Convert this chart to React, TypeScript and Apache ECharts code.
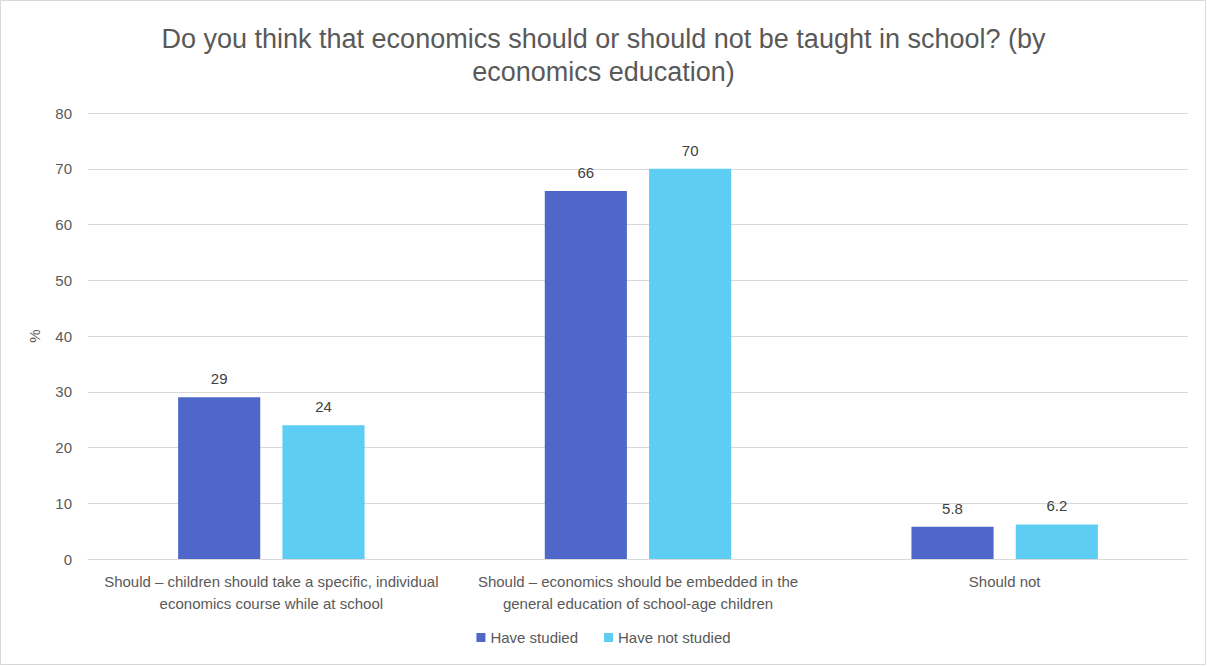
import React, { useEffect, useRef } from "react";
import * as echarts from "echarts";

const categories = [
  "Should – children should take a specific, individual\neconomics course while at school",
  "Should – economics should be embedded in the\ngeneral education of school-age children",
  "Should not",
];
const haveStudied = [29, 66, 5.8];
const haveNotStudied = [24, 70, 6.2];
const seriesNames = ["Have studied", "Have not studied"];
const titleText = "Do you think that economics should or should not be taught in school? (by\neconomics education)";

const FONT = "'Liberation Sans', 'Open Sans', sans-serif";

export default function App() {
  const ref = useRef<HTMLDivElement>(null);
  useEffect(() => {
    if (!ref.current) return;
    const chart = echarts.init(ref.current, null, { renderer: "svg" });
    chart.setOption({
      animation: false,
      backgroundColor: "#ffffff",
      textStyle: { fontFamily: FONT },
      title: {
        text: titleText,
        left: "center",
        top: 17,
        textStyle: { fontSize: 27, fontWeight: "normal", color: "#595959", lineHeight: 33, fontFamily: FONT },
      },
      graphic: [
        {
          type: "rect",
          shape: { x: 0.5, y: 0.5, width: 1205, height: 664 },
          style: { fill: "none", stroke: "#d9d9d9", lineWidth: 1 },
          silent: true,
          z: -1,
        },
      ],
      legend: {
        bottom: 16,
        left: "center",
        itemWidth: 9,
        itemHeight: 9,
        itemGap: 26,
        icon: "rect",
        textStyle: { fontSize: 15, color: "#595959", fontFamily: FONT },
        data: seriesNames,
      },
      grid: { left: 88, right: 19, top: 113, bottom: 107 },
      xAxis: {
        type: "category",
        data: categories,
        axisLine: { lineStyle: { color: "#d9d9d9" } },
        axisTick: { show: false },
        axisLabel: { color: "#595959", fontSize: 15, lineHeight: 22, interval: 0, margin: 11, fontFamily: FONT },
      },
      yAxis: {
        type: "value",
        min: 0,
        max: 80,
        interval: 10,
        name: "%",
        nameLocation: "middle",
        nameGap: 46,
        nameTextStyle: { color: "#595959", fontSize: 15, fontFamily: FONT },
        axisLine: { show: false },
        axisTick: { show: false },
        axisLabel: { color: "#595959", fontSize: 15, margin: 16, fontFamily: FONT },
        splitLine: { lineStyle: { color: "#d9d9d9", width: 1 } },
      },
      series: [
        {
          name: seriesNames[0],
          type: "bar",
          data: haveStudied,
          barWidth: "22.4%",
          barGap: "27%",
          itemStyle: { color: "#4F67C8" },
          label: { show: true, position: "top", distance: 11, fontSize: 15, color: "#404040", fontFamily: FONT },
        },
        {
          name: seriesNames[1],
          type: "bar",
          data: haveNotStudied,
          barWidth: "22.4%",
          itemStyle: { color: "#5DCDF3" },
          label: { show: true, position: "top", distance: 11, fontSize: 15, color: "#404040", fontFamily: FONT },
        },
      ],
    });
    return () => chart.dispose();
  }, []);
  return (
    <div
      ref={ref}
      style={{ position: "fixed", left: 0, top: 0, width: 1207, height: 666 }}
    />
  );
}
